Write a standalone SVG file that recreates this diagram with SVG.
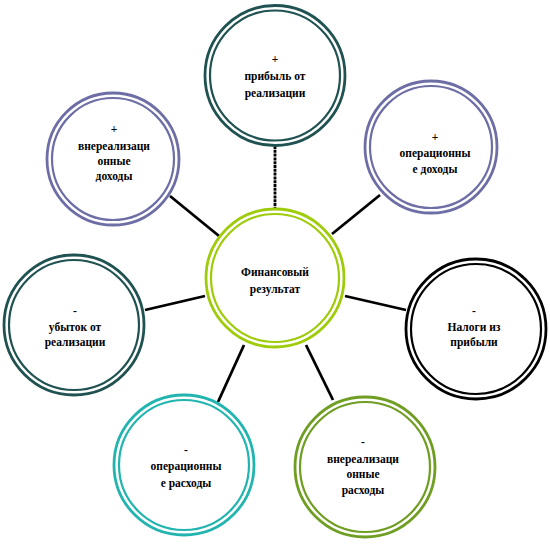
<svg xmlns="http://www.w3.org/2000/svg" width="550" height="554" viewBox="0 0 550 554">
<style>
.o{fill:#fff;stroke-width:2.8}
.i{fill:none;stroke-width:2.2}
text{font-family:'Liberation Serif','DejaVu Serif','Times New Roman',serif;font-size:11.5px;font-weight:bold;fill:#000;text-anchor:middle}
.c{stroke:#000;stroke-width:2.8;fill:none}
.teal{stroke:#1f5250}
.purp{stroke:#6e6ea6}
.blk{stroke:#000}
.aqua{stroke:#22b5b0}
.olive{stroke:#6f9e22}
.lime{stroke:#9fcc0a}
</style>
<g id="connectors">
<line class="c" x1="275" y1="146" x2="275" y2="209" stroke-dasharray="3,0.8"/>
<line class="c" x1="170" y1="196" x2="219" y2="236"/>
<line class="c" x1="380" y1="195" x2="332" y2="234"/>
<line class="c" x1="145" y1="310" x2="205" y2="296"/>
<line class="c" x1="345" y1="296" x2="406" y2="310"/>
<line class="c" x1="244" y1="345" x2="218" y2="402"/>
<line class="c" x1="306" y1="345" x2="333" y2="400"/>
</g>
<g id="center">
<circle class="o lime" cx="275" cy="278" r="69"/>
<circle class="i lime" cx="275" cy="278" r="64"/>
<text x="275" y="276">Финансовый</text>
<text x="275" y="293">результат</text>
</g>
<g id="top">
<circle class="o teal" cx="275" cy="75.5" r="70"/>
<circle class="i teal" cx="275" cy="75.5" r="65"/>
<text x="275" y="63">+</text>
<text x="275" y="80">прибыль от</text>
<text x="275" y="97">реализации</text>
</g>
<g id="topright">
<circle class="o purp" cx="431" cy="147" r="66"/>
<circle class="i purp" cx="431" cy="147" r="61"/>
<text x="435" y="141">+</text>
<text x="435" y="157">операционны</text>
<text x="435" y="173">е доходы</text>
</g>
<g id="topleft">
<circle class="o purp" cx="113" cy="159" r="66"/>
<circle class="i purp" cx="113" cy="159" r="61"/>
<text x="114" y="133">+</text>
<text x="114" y="150">внереализаци</text>
<text x="114" y="165">онные</text>
<text x="114" y="180">доходы</text>
</g>
<g id="left">
<circle class="o teal" cx="74" cy="325" r="70"/>
<circle class="i teal" cx="74" cy="325" r="65"/>
<text x="75" y="315">-</text>
<text x="75" y="331">убыток от</text>
<text x="75" y="346">реализации</text>
</g>
<g id="right">
<circle class="o blk" cx="476" cy="329" r="70"/>
<circle class="i blk" cx="476" cy="329" r="65"/>
<text x="474" y="315">-</text>
<text x="474" y="331">Налоги из</text>
<text x="474" y="346">прибыли</text>
</g>
<g id="bottomleft">
<circle class="o aqua" cx="184" cy="465" r="70"/>
<circle class="i aqua" cx="184" cy="465" r="65"/>
<text x="186" y="454">-</text>
<text x="186" y="470">операционны</text>
<text x="186" y="487">е расходы</text>
</g>
<g id="bottomright">
<circle class="o olive" cx="365" cy="467" r="70"/>
<circle class="i olive" cx="365" cy="467" r="65"/>
<text x="363" y="446">-</text>
<text x="363" y="463">внереализаци</text>
<text x="363" y="478">онные</text>
<text x="363" y="494">расходы</text>
</g>
</svg>
